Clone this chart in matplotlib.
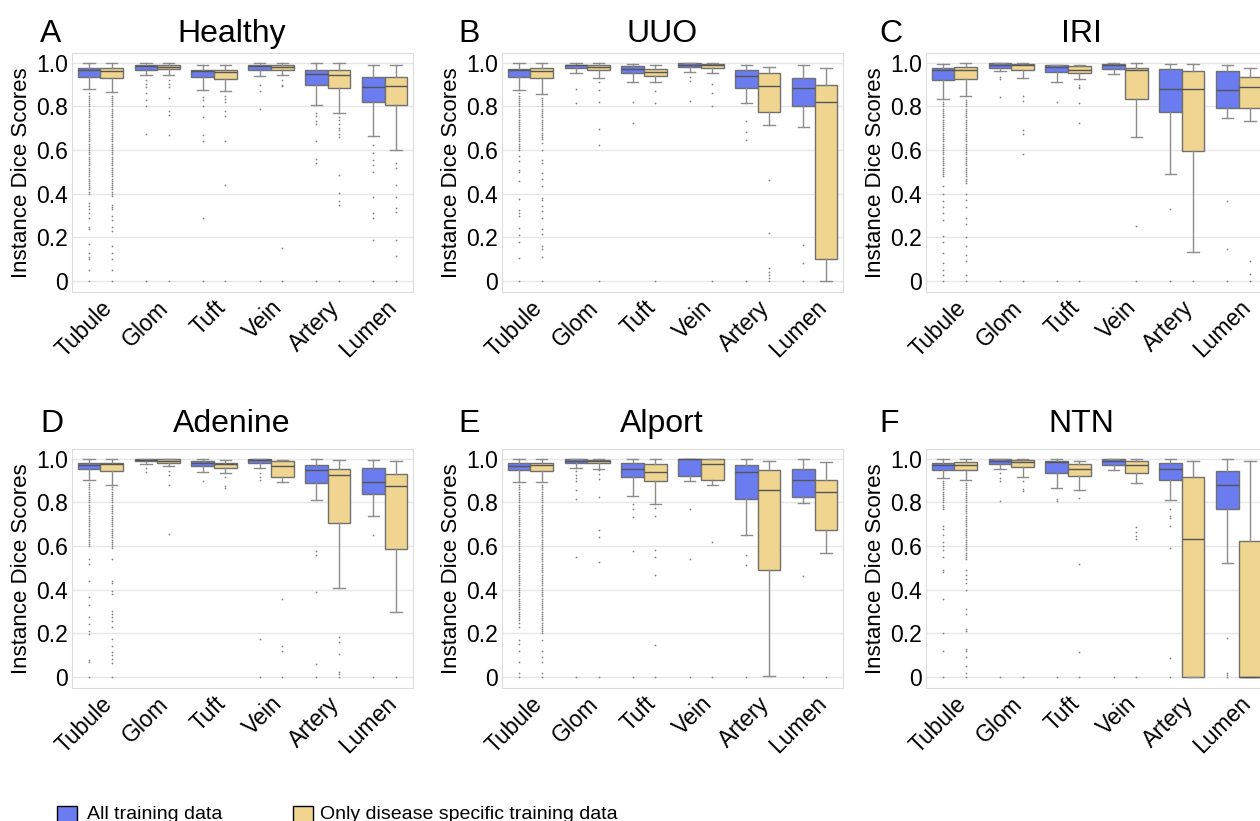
import matplotlib.pyplot as plt
from matplotlib.patches import Rectangle

plt.rcParams['font.family'] = ['Liberation Sans', 'DejaVu Sans']

structures = ["Tubule", "Glom", "Tuft", "Vein", "Artery", "Lumen"]
panels = ["A", "B", "C", "D", "E", "F"]
titles = ["Healthy", "UUO", "IRI", "Adenine", "Alport", "NTN"]
groups = ["All training data", "Only disease specific training data"]

# each row: low whisker, q1, median, q3, high whisker
healthy_all = [[0.878, 0.937, 0.966, 0.977, 1.0], [0.942, 0.969, 0.985, 0.991, 0.997],
               [0.875, 0.933, 0.963, 0.969, 0.99], [0.939, 0.966, 0.985, 0.99, 1.0],
               [0.805, 0.90, 0.948, 0.966, 0.997], [0.664, 0.821, 0.89, 0.937, 0.992]]
healthy_only = [[0.867, 0.93, 0.962, 0.974, 0.998], [0.945, 0.971, 0.983, 0.989, 0.997],
                [0.87, 0.927, 0.959, 0.969, 0.99], [0.942, 0.966, 0.982, 0.99, 1.0],
                [0.768, 0.885, 0.944, 0.966, 0.997], [0.60, 0.805, 0.893, 0.937, 0.992]]
uuo_all = [[0.877, 0.937, 0.965, 0.972, 0.998], [0.954, 0.977, 0.988, 0.992, 0.998],
           [0.911, 0.954, 0.972, 0.985, 0.995], [0.96, 0.98, 0.991, 0.998, 1.0],
           [0.814, 0.883, 0.939, 0.968, 0.991], [0.708, 0.80, 0.883, 0.929, 0.988]]
uuo_only = [[0.857, 0.929, 0.962, 0.977, 0.998], [0.931, 0.965, 0.983, 0.992, 1.0],
            [0.911, 0.939, 0.957, 0.971, 0.991], [0.952, 0.977, 0.99, 0.995, 1.0],
            [0.714, 0.773, 0.892, 0.952, 0.983], [0.0, 0.10, 0.819, 0.899, 0.975]]
iri_all = [[0.835, 0.921, 0.965, 0.974, 0.995], [0.963, 0.977, 0.992, 0.997, 1.0],
           [0.911, 0.957, 0.98, 0.989, 0.992], [0.947, 0.971, 0.988, 0.994, 1.0],
           [0.489, 0.774, 0.882, 0.973, 0.995], [0.748, 0.791, 0.875, 0.962, 0.992]]
iri_only = [[0.847, 0.928, 0.966, 0.982, 1.0], [0.931, 0.966, 0.989, 0.995, 1.0],
            [0.928, 0.954, 0.969, 0.985, 0.992], [0.66, 0.835, 0.965, 0.977, 1.0],
            [0.133, 0.598, 0.882, 0.962, 0.995], [0.733, 0.791, 0.89, 0.936, 0.974]]
adenine_all = [[0.901, 0.953, 0.97, 0.983, 0.998], [0.977, 0.988, 0.995, 0.998, 1.0],
               [0.939, 0.965, 0.983, 0.988, 0.998], [0.96, 0.983, 0.994, 0.998, 1.0],
               [0.813, 0.889, 0.95, 0.973, 1.0], [0.74, 0.839, 0.892, 0.96, 0.995]]
adenine_only = [[0.881, 0.942, 0.976, 0.983, 0.998], [0.965, 0.98, 0.992, 0.997, 1.0],
                [0.935, 0.96, 0.976, 0.983, 0.995], [0.894, 0.916, 0.968, 0.988, 0.995],
                [0.407, 0.704, 0.924, 0.953, 0.995], [0.30, 0.585, 0.877, 0.93, 0.992]]
alport_all = [[0.894, 0.947, 0.965, 0.98, 1.0], [0.96, 0.983, 0.992, 0.999, 1.0],
              [0.828, 0.919, 0.954, 0.983, 1.0], [0.90, 0.922, 0.999, 1.0, 1.0],
              [0.649, 0.818, 0.939, 0.97, 0.998], [0.798, 0.824, 0.904, 0.953, 0.998]]
alport_only = [[0.892, 0.945, 0.97, 0.983, 1.0], [0.954, 0.98, 0.991, 0.995, 1.0],
               [0.793, 0.90, 0.939, 0.976, 0.998], [0.881, 0.901, 0.977, 0.998, 1.0],
               [0.003, 0.491, 0.859, 0.947, 0.988], [0.57, 0.676, 0.847, 0.904, 0.985]]
ntn_all = [[0.91, 0.951, 0.97, 0.982, 1.0], [0.954, 0.977, 0.992, 0.997, 1.0],
           [0.865, 0.936, 0.985, 0.992, 0.997], [0.947, 0.971, 0.992, 0.997, 1.0],
           [0.81, 0.903, 0.954, 0.979, 1.0], [0.524, 0.772, 0.879, 0.944, 0.997]]
ntn_only = [[0.901, 0.948, 0.971, 0.985, 1.0], [0.917, 0.962, 0.985, 0.994, 1.0],
            [0.857, 0.921, 0.954, 0.974, 0.992], [0.891, 0.933, 0.971, 0.992, 1.0],
            [0.0, 0.0, 0.633, 0.918, 0.992], [0.0, 0.0, 0.0, 0.625, 0.992]]

# outliers per structure
healthy_all_fl = [
    [0.86, 0.85, 0.84, 0.83, 0.82, 0.81, 0.80, 0.79, 0.78, 0.77, 0.76, 0.75, 0.74, 0.73, 0.72, 0.71,
     0.70, 0.69, 0.68, 0.67, 0.66, 0.65, 0.64, 0.63, 0.62, 0.61, 0.60, 0.59, 0.58, 0.57, 0.56, 0.55,
     0.54, 0.53, 0.52, 0.51, 0.50, 0.49, 0.48, 0.47, 0.46, 0.45, 0.44, 0.43, 0.42, 0.41, 0.40,
     0.36, 0.345, 0.33, 0.31, 0.29, 0.25, 0.24, 0.17, 0.13, 0.11, 0.10, 0.05, 0.0],
    [0.92, 0.905, 0.887, 0.86, 0.83, 0.80, 0.676, 0.0],
    [0.844, 0.83, 0.80, 0.75, 0.67, 0.64, 0.29, 0.0],
    [0.898, 0.872, 0.79, 0.0],
    [0.768, 0.755, 0.734, 0.72, 0.64, 0.56, 0.54, 0.0],
    [0.623, 0.585, 0.554, 0.53, 0.50, 0.386, 0.31, 0.287, 0.188, 0.0]]
healthy_only_fl = [
    [0.85, 0.84, 0.83, 0.82, 0.81, 0.80, 0.79, 0.78, 0.77, 0.76, 0.75, 0.74, 0.73, 0.72, 0.71, 0.70,
     0.69, 0.68, 0.67, 0.66, 0.65, 0.64, 0.63, 0.62, 0.61, 0.60, 0.59, 0.58, 0.57, 0.56, 0.55, 0.54,
     0.53, 0.52, 0.51, 0.50, 0.49, 0.48, 0.47, 0.46, 0.45, 0.44, 0.43, 0.42, 0.41, 0.40, 0.39,
     0.35, 0.34, 0.33, 0.30, 0.28, 0.25, 0.23, 0.16, 0.13, 0.10, 0.05, 0.0],
    [0.92, 0.905, 0.89, 0.837, 0.78, 0.76, 0.669, 0.0],
    [0.85, 0.835, 0.82, 0.78, 0.755, 0.64, 0.44, 0.0],
    [0.92, 0.90, 0.893, 0.15, 0.0],
    [0.753, 0.737, 0.72, 0.70, 0.69, 0.676, 0.658, 0.486, 0.405, 0.366, 0.35, 0.0],
    [0.539, 0.516, 0.44, 0.386, 0.333, 0.318, 0.188, 0.115, 0.0]]
uuo_all_fl = [
    [0.86, 0.85, 0.84, 0.83, 0.82, 0.81, 0.80, 0.79, 0.78, 0.77, 0.76, 0.75, 0.74, 0.73, 0.72, 0.71,
     0.70, 0.69, 0.68, 0.67, 0.66, 0.65, 0.64, 0.63, 0.62, 0.61, 0.60,
     0.573, 0.55, 0.51, 0.50, 0.46, 0.376, 0.327, 0.31, 0.296, 0.243, 0.212, 0.18, 0.104, 0.0],
    [0.88, 0.816],
    [0.819, 0.724],
    [0.934, 0.919, 0.826],
    [0.734, 0.684, 0.647, 0.0],
    [0.166, 0.084, 0.0]]
uuo_only_fl = [
    [0.84, 0.83, 0.82, 0.81, 0.80, 0.79, 0.78, 0.77, 0.76, 0.75, 0.74, 0.73, 0.72, 0.71, 0.70, 0.69,
     0.68, 0.67, 0.66, 0.65, 0.634, 0.60, 0.557, 0.54, 0.496, 0.47, 0.435, 0.381, 0.37, 0.342,
     0.32, 0.29, 0.238, 0.215, 0.16, 0.146, 0.109, 0.0],
    [0.911, 0.877, 0.819, 0.696, 0.624, 0.0],
    [0.873, 0.816, 0.0],
    [0.903, 0.86, 0.80, 0.0],
    [0.465, 0.22, 0.058, 0.043, 0.028, 0.012, 0.0],
    []]
iri_all_fl = [
    [0.82, 0.81, 0.80, 0.79, 0.78, 0.77, 0.76, 0.75, 0.74, 0.73, 0.72, 0.71, 0.70, 0.69, 0.68, 0.67,
     0.66, 0.65, 0.64, 0.63, 0.62, 0.61, 0.60, 0.59, 0.58, 0.57, 0.56, 0.55, 0.54, 0.53, 0.52, 0.51,
     0.50, 0.49, 0.48, 0.435, 0.40, 0.366, 0.34, 0.313, 0.282, 0.206, 0.18, 0.13, 0.084, 0.053,
     0.03, 0.0],
    [0.936, 0.924, 0.843, 0.0],
    [0.82, 0.0],
    [],
    [0.331, 0.0],
    [0.369, 0.148, 0.0]]
iri_only_fl = [
    [0.83, 0.82, 0.81, 0.80, 0.79, 0.78, 0.77, 0.76, 0.75, 0.74, 0.73, 0.72, 0.71, 0.70, 0.69, 0.68,
     0.67, 0.66, 0.65, 0.64, 0.63, 0.62, 0.61, 0.60, 0.59, 0.58, 0.57, 0.56, 0.55, 0.54, 0.53, 0.52,
     0.51, 0.50, 0.49, 0.48, 0.47, 0.46, 0.45, 0.40, 0.37, 0.34, 0.29, 0.26, 0.20, 0.16, 0.12, 0.09,
     0.03, 0.0],
    [0.847, 0.824, 0.69, 0.672, 0.58, 0.0],
    [0.90, 0.89, 0.885, 0.817, 0.725, 0.0],
    [0.252, 0.0],
    [0.0],
    [0.092, 0.034, 0.0]]
adenine_all_fl = [
    [0.89, 0.88, 0.87, 0.86, 0.85, 0.84, 0.83, 0.82, 0.81, 0.80, 0.79, 0.78, 0.77, 0.76, 0.75, 0.74,
     0.73, 0.72, 0.71, 0.70, 0.69, 0.68, 0.67, 0.66, 0.65, 0.64, 0.63, 0.62, 0.61, 0.60,
     0.54, 0.517, 0.44, 0.368, 0.33, 0.274, 0.243, 0.21, 0.198, 0.079, 0.068, 0.0],
    [0.958, 0.938],
    [0.90],
    [0.935, 0.919, 0.904, 0.175, 0.0],
    [0.578, 0.559, 0.388, 0.061, 0.0],
    [0.65, 0.0]]
adenine_only_fl = [
    [0.87, 0.86, 0.85, 0.84, 0.83, 0.82, 0.81, 0.80, 0.79, 0.78, 0.77, 0.76, 0.75, 0.74, 0.73, 0.72,
     0.71, 0.70, 0.69, 0.68, 0.67, 0.66, 0.65, 0.64, 0.63, 0.62, 0.61, 0.60, 0.59,
     0.54, 0.44, 0.43, 0.395, 0.38, 0.304, 0.29, 0.275, 0.258, 0.228, 0.175, 0.144, 0.114, 0.10,
     0.084, 0.064, 0.0],
    [0.942, 0.925, 0.881, 0.657],
    [0.915, 0.877, 0.866],
    [0.36, 0.144, 0.119, 0.0],
    [0.185, 0.16, 0.106, 0.023, 0.012, 0.0],
    [0.0]]
alport_all_fl = [
    [0.88, 0.87, 0.86, 0.85, 0.84, 0.83, 0.82, 0.81, 0.80, 0.79, 0.78, 0.77, 0.76, 0.75, 0.74, 0.73,
     0.72, 0.71, 0.70, 0.69, 0.68, 0.67, 0.66, 0.65, 0.64, 0.63, 0.62, 0.61, 0.60, 0.59, 0.58, 0.57,
     0.56, 0.55, 0.54, 0.53, 0.52, 0.51, 0.50, 0.49, 0.48, 0.47, 0.46, 0.45, 0.44, 0.43, 0.42, 0.41,
     0.40, 0.39, 0.38, 0.37, 0.36, 0.35, 0.34, 0.33, 0.32, 0.31, 0.30, 0.29, 0.28, 0.27, 0.26, 0.25,
     0.23, 0.17, 0.15, 0.12, 0.07, 0.02, 0.0],
    [0.942, 0.927, 0.912, 0.897, 0.856, 0.816, 0.55, 0.0],
    [0.795, 0.772, 0.734, 0.578, 0.0],
    [0.772, 0.54, 0.0],
    [0.559, 0.512, 0.0],
    [0.464, 0.0]]
alport_only_fl = [
    [0.88, 0.87, 0.86, 0.85, 0.84, 0.83, 0.82, 0.81, 0.80, 0.79, 0.78, 0.77, 0.76, 0.75, 0.74, 0.73,
     0.72, 0.71, 0.70, 0.69, 0.68, 0.67, 0.66, 0.65, 0.64, 0.63, 0.62, 0.61, 0.60, 0.59, 0.58, 0.57,
     0.56, 0.55, 0.54, 0.53, 0.52, 0.51, 0.50, 0.49, 0.48, 0.47, 0.46, 0.45, 0.44, 0.43, 0.42, 0.41,
     0.40, 0.39, 0.38, 0.37, 0.36, 0.35, 0.34, 0.33, 0.32, 0.31, 0.30, 0.29, 0.28, 0.27, 0.26, 0.25,
     0.24, 0.23, 0.22, 0.21, 0.20, 0.17, 0.12, 0.09, 0.07, 0.02, 0.0],
    [0.947, 0.93, 0.909, 0.825, 0.672, 0.643, 0.527, 0.0],
    [0.775, 0.737, 0.582, 0.552, 0.467, 0.149, 0.0],
    [0.619, 0.0],
    [],
    [0.0]]
ntn_all_fl = [
    [0.90, 0.89, 0.88, 0.87, 0.86, 0.85, 0.84, 0.83, 0.82, 0.81, 0.80, 0.79, 0.78, 0.77,
     0.69, 0.68, 0.65, 0.62, 0.60, 0.58, 0.55, 0.49, 0.48, 0.36, 0.203, 0.121, 0.0],
    [0.935, 0.91, 0.90, 0.807, 0.0],
    [0.818, 0.807, 0.0],
    [0.0],
    [0.769, 0.739, 0.727, 0.693, 0.59, 0.086, 0.0],
    [0.178, 0.021, 0.011, 0.0]]
ntn_only_fl = [
    [0.89, 0.88, 0.87, 0.86, 0.85, 0.84, 0.83, 0.82, 0.81, 0.80, 0.79, 0.78, 0.77, 0.76, 0.75, 0.74,
     0.73, 0.72, 0.71, 0.70, 0.69, 0.68, 0.67, 0.66, 0.65, 0.64, 0.63, 0.62, 0.61, 0.60, 0.59, 0.58,
     0.57, 0.56, 0.55, 0.54, 0.49, 0.47, 0.45, 0.43, 0.40, 0.31, 0.29, 0.22, 0.21, 0.13, 0.12, 0.09,
     0.05, 0.02, 0.0],
    [0.90, 0.863, 0.853, 0.0],
    [0.819, 0.516, 0.117, 0.0],
    [0.686, 0.665, 0.645, 0.633, 0.0],
    [],
    []]

panel_all = [healthy_all, uuo_all, iri_all, adenine_all, alport_all, ntn_all]
panel_only = [healthy_only, uuo_only, iri_only, adenine_only, alport_only, ntn_only]
panel_all_fl = [healthy_all_fl, uuo_all_fl, iri_all_fl, adenine_all_fl, alport_all_fl, ntn_all_fl]
panel_only_fl = [healthy_only_fl, uuo_only_fl, iri_only_fl, adenine_only_fl, alport_only_fl, ntn_only_fl]

blue = '#6a7cf0'
yellow = '#f0d590'


def make_stats(rows, fliers):
    return [dict(whislo=r[0], q1=r[1], med=r[2], q3=r[3], whishi=r[4], fliers=f)
            for r, f in zip(rows, fliers)]


def draw_boxes(ax, stats, pos, color):
    ax.bxp(stats, positions=pos, widths=0.4, capwidths=0.2, patch_artist=True,
           boxprops=dict(facecolor=color, edgecolor='#707070', linewidth=1),
           medianprops=dict(color='#555555', linewidth=1),
           whiskerprops=dict(color='#8c8c8c', linewidth=1),
           capprops=dict(color='#8c8c8c', linewidth=1),
           flierprops=dict(marker='o', markersize=1.25, markerfacecolor='#808080',
                           markeredgecolor='none', linestyle='none'))


fig = plt.figure(figsize=(12.6, 8.21), dpi=100)

lefts = [72, 502, 926]
bottoms = [529, 133]
letter_x = [40, 458, 879]
title_x = [232, 662, 1081]
base_y = [42, 432]
W, H = 1260, 821

for k in range(6):
    row, col = divmod(k, 3)
    ax = fig.add_axes([lefts[col] / W, bottoms[row] / H, 341 / W, 239 / H])
    xs = list(range(len(structures)))
    draw_boxes(ax, make_stats(panel_all[k], panel_all_fl[k]), [x - 0.2 for x in xs], blue)
    draw_boxes(ax, make_stats(panel_only[k], panel_only_fl[k]), [x + 0.2 for x in xs], yellow)
    ax.set_xlim(-0.5, 5.5)
    ax.set_ylim(-0.05, 1.045)
    ax.set_yticks([0, 0.2, 0.4, 0.6, 0.8, 1.0])
    ax.set_yticklabels(['0', '0.2', '0.4', '0.6', '0.8', '1.0'], fontsize=16.5)
    ax.set_xticks(xs)
    ax.set_xticklabels(structures, fontsize=16.5, rotation=45, ha='right', rotation_mode='anchor')
    ax.tick_params(length=0, pad=3)
    ax.grid(axis='y', color='#e6e6e6', linewidth=1)
    ax.set_axisbelow(True)
    for s in ax.spines.values():
        s.set_color('#dcdcdc')
    ax.set_ylabel('Instance Dice Scores', fontsize=16, labelpad=3)
    fig.text(letter_x[col] / W, (H - base_y[row]) / H, panels[k], fontsize=23, va='baseline')
    fig.text(title_x[col] / W, (H - base_y[row]) / H, titles[k], fontsize=23,
             ha='center', va='baseline')

# legend along the bottom edge
fig.add_artist(Rectangle((57 / W, -7 / H), 20 / W, 22 / H, transform=fig.transFigure,
                         facecolor=blue, edgecolor='black', linewidth=1))
fig.text(87 / W, 2 / H, groups[0], fontsize=14, va='baseline')
fig.add_artist(Rectangle((293 / W, -7 / H), 20 / W, 22 / H, transform=fig.transFigure,
                         facecolor=yellow, edgecolor='black', linewidth=1))
fig.text(320 / W, 2 / H, groups[1], fontsize=14, va='baseline')

fig.savefig('out.png', dpi=100)
